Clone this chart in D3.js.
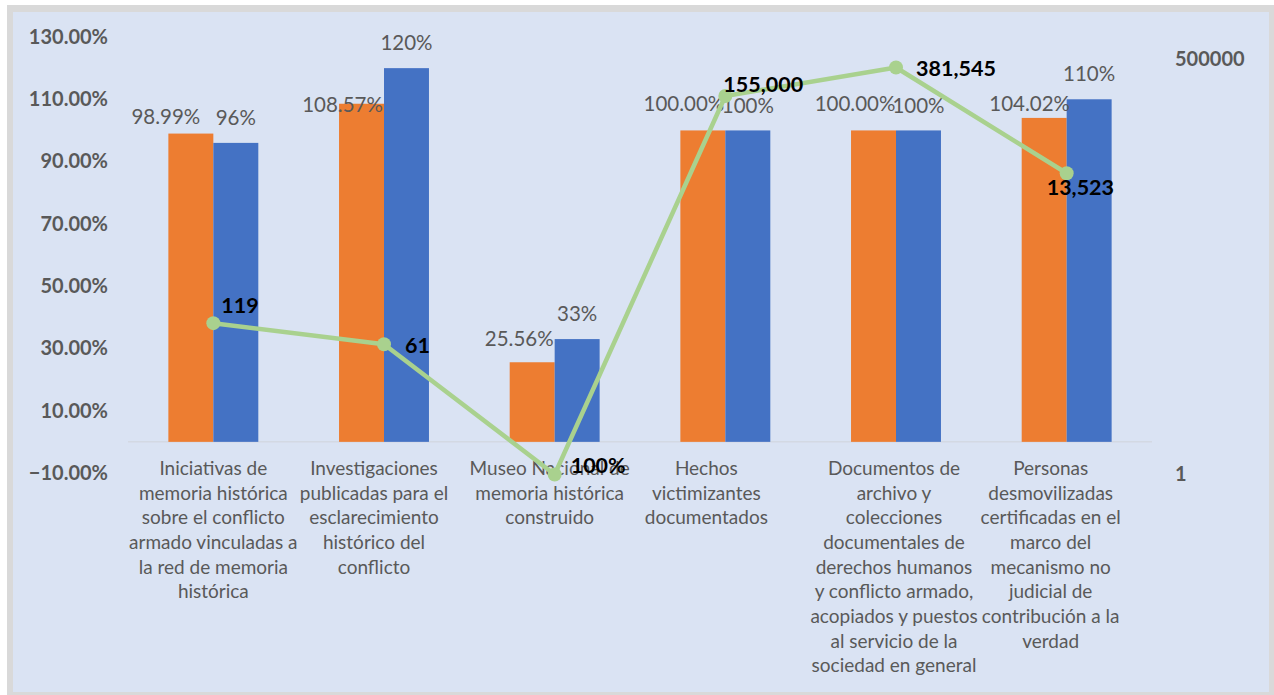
<!DOCTYPE html>
<html lang="es">
<head>
<meta charset="UTF-8">
<title>Metas y avance</title>
<script src="https://cdn.jsdelivr.net/npm/d3@7"></script>
<style>
  body { margin: 0; background: #fff; }
  text { font-family: Lato, "Noto Sans", sans-serif; }
  .axis-lbl { font-size: 20px; font-weight: bold; fill: #595959; }
  .cat-lbl { font-size: 19px; fill: #595959; }
  .bar-lbl { font-size: 20.5px; fill: #595959; }
  .line-lbl { font-size: 21.5px; font-weight: bold; fill: #000; }
</style>
</head>
<body>
<div id="chart"></div>
<script>
// categories (wrapped as in the original)
var categories = [
  ["Iniciativas de", "memoria histórica", "sobre el conflicto", "armado vinculadas a", "la red de memoria", "histórica"],
  ["Investigaciones", "publicadas para el", "esclarecimiento", "histórico del", "conflicto"],
  ["Museo Nacional de", "memoria histórica", "construido"],
  ["Hechos", "victimizantes", "documentados"],
  ["Documentos de", "archivo y", "colecciones", "documentales de", "derechos humanos", "y conflicto armado,", "acopiados y puestos", "al servicio de la", "sociedad en general"],
  ["Personas", "desmovilizadas", "certificadas en el", "marco del", "mecanismo no", "judicial de", "contribución a la", "verdad"]
];
var orangeValues = [0.9899, 1.0857, 0.2556, 1.0, 1.0, 1.0402];
var blueValues = [0.96, 1.20, 0.33, 1.0, 1.0, 1.10];
var lineValues = [119, 61, 1, 155000, 381545, 13523];
var lineLabels = ["119", "61", "100%", "155,000", "381,545", "13,523"];
var leftTicks = [-0.1, 0.1, 0.3, 0.5, 0.7, 0.9, 1.1, 1.3];
var rightTicks = [1, 500000];

// label nudges (px)
var orangeLblShift = [[-25, 13], [-19, 31], [-13, 7], [-19, 3.5], [-18.5, 3.5], [-14.5, 16]];
var lineLblShift = [[8, -18], [21, 1], [16, -9], [-2, -12], [20, 1], [-20, 14]];
var catLblShift = [0, -10, -5, -19, -2, -16];

var W = 1274, H = 695;
var margin = {top: 37, left: 128},
    width = 1024, height = 436;

var svg = d3.select("#chart").append("svg")
    .attr("width", W).attr("height", H);

// frame
svg.append("rect").attr("x", 7).attr("y", 5).attr("width", W - 7).attr("height", H - 5)
    .attr("fill", "#d9d9d9");
svg.append("rect").attr("x", 13).attr("y", 12).attr("width", 1256).attr("height", 680)
    .attr("fill", "#dae3f3");

var g = svg.append("g").attr("transform", "translate(" + margin.left + "," + margin.top + ")");

var idx = d3.range(categories.length);
var x = d3.scaleBand().domain(idx).range([0, width]).paddingInner(0.473).paddingOuter(0.2365);
var xSub = d3.scaleBand().domain(["o", "b"]).range([0, x.bandwidth()]);
var y = d3.scaleLinear().domain([-0.1, 1.3]).range([height, 0]);
var yR = d3.scaleLog().domain([1, 1e6]).range([height + 1.5, 0]);
var cx = function(i) { return x(i) + x.bandwidth() / 2; };

// left axis
var yAxis = g.append("g")
    .call(d3.axisLeft(y).tickValues(leftTicks).tickFormat(d3.format(".2%")).tickSize(0).tickPadding(20));
yAxis.select(".domain").remove();
yAxis.selectAll("text").attr("class", "axis-lbl").attr("font-family", null).attr("font-size", null).attr("fill", null);

// right axis
var yAxisR = g.append("g").attr("transform", "translate(" + width + ",0)")
    .call(d3.axisRight(yR).tickValues(rightTicks).tickFormat(d3.format("d")).tickSize(0).tickPadding(23));
yAxisR.select(".domain").remove();
yAxisR.selectAll("text").attr("class", "axis-lbl").attr("font-family", null).attr("font-size", null).attr("fill", null);

// zero line
g.append("line").attr("x1", 0).attr("x2", width).attr("y1", y(0)).attr("y2", y(0))
    .attr("stroke", "#d0d4db").attr("stroke-width", 1);

// bars
var groups = g.selectAll(".grp").data(idx).enter().append("g")
    .attr("transform", function(i) { return "translate(" + x(i) + ",0)"; });
groups.append("rect")
    .attr("x", xSub("o")).attr("width", xSub.bandwidth())
    .attr("y", function(i) { return y(orangeValues[i]); })
    .attr("height", function(i) { return y(0) - y(orangeValues[i]); })
    .attr("fill", "#ed7d31");
groups.append("rect")
    .attr("x", xSub("b")).attr("width", xSub.bandwidth())
    .attr("y", function(i) { return y(blueValues[i]); })
    .attr("height", function(i) { return y(0) - y(blueValues[i]); })
    .attr("fill", "#4472c4");

// bar labels
groups.append("text").attr("class", "bar-lbl")
    .attr("x", function(i) { return xSub("o") + xSub.bandwidth() / 2 + orangeLblShift[i][0]; })
    .attr("y", function(i) { return y(orangeValues[i]) - 30 + orangeLblShift[i][1]; })
    .attr("dy", "0.35em").attr("text-anchor", "middle")
    .text(function(i) { return d3.format(".2%")(orangeValues[i]); });
groups.append("text").attr("class", "bar-lbl")
    .attr("x", xSub("b") + xSub.bandwidth() / 2)
    .attr("y", function(i) { return y(blueValues[i]) - 25; })
    .attr("dy", "0.35em").attr("text-anchor", "middle")
    .text(function(i) { return d3.format(".0%")(blueValues[i]); });

// category labels
var cat = g.selectAll(".cat").data(idx).enter().append("text")
    .attr("class", "cat-lbl").attr("text-anchor", "middle")
    .attr("transform", function(i) { return "translate(" + (cx(i) + catLblShift[i]) + "," + (y(0) + 33) + ")"; });
cat.selectAll("tspan").data(function(i) { return categories[i]; }).enter().append("tspan")
    .attr("x", 0).attr("dy", function(d, k) { return k === 0 ? 0 : 24.7; })
    .text(function(d) { return d; });

// line series
var line = d3.line().x(function(i) { return cx(i); }).y(function(i) { return yR(lineValues[i]); });
g.append("path").datum(idx).attr("d", line)
    .attr("fill", "none").attr("stroke", "#a9d18e").attr("stroke-width", 4.5)
    .attr("stroke-linejoin", "round");
g.selectAll(".dot").data(idx).enter().append("circle")
    .attr("cx", cx).attr("cy", function(i) { return yR(lineValues[i]); })
    .attr("r", 7).attr("fill", "#a9d18e");
g.selectAll(".ll").data(idx).enter().append("text").attr("class", "line-lbl")
    .attr("x", function(i) { return cx(i) + lineLblShift[i][0]; })
    .attr("y", function(i) { return yR(lineValues[i]) + lineLblShift[i][1]; })
    .attr("dy", "0.35em")
    .text(function(i) { return lineLabels[i]; });
</script>
</body>
</html>
